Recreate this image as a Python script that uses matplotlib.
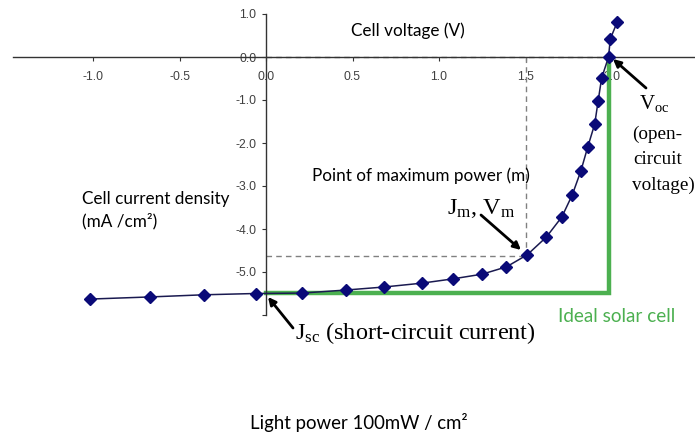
import matplotlib
matplotlib.use("Agg")
import matplotlib.pyplot as plt

# J-V curve of the cell
voltage = [-1.02, -0.67, -0.36, -0.06, 0.21, 0.46, 0.68, 0.90, 1.08, 1.25, 1.39, 1.51,
           1.62, 1.71, 1.77, 1.82, 1.86, 1.90, 1.92, 1.94, 1.98, 1.99, 2.03]
current = [-5.63, -5.58, -5.53, -5.50, -5.49, -5.42, -5.35, -5.26, -5.16, -5.05, -4.88, -4.60,
           -4.19, -3.72, -3.21, -2.65, -2.09, -1.56, -1.02, -0.49, 0.0, 0.42, 0.81]
v_oc = 1.98
j_sc = -5.49
v_m = 1.5
j_m = -4.63
x_ticks = [-1.0, -0.5, 0.0, 0.5, 1.0, 1.5, 2.0]
y_ticks = [1.0, 0.0, -1.0, -2.0, -3.0, -4.0, -5.0, -6.0]

plt.rcParams['mathtext.fontset'] = 'custom'
plt.rcParams['mathtext.rm'] = 'Liberation Serif'
plt.rcParams['mathtext.it'] = 'Liberation Serif:italic'

W, H = 695, 441
fig = plt.figure(figsize=(W / 100, H / 100), dpi=100)
ax = fig.add_axes([0, 0, 1, 1])
ax.set_xlim((0 - 266) / 173, (W - 266) / 173)
ax.set_ylim((57 - H) / 43, 57 / 43)


def fp(px, py):
    return (px / W, 1 - py / H)


# axes through the origin
for s in ['top', 'right']:
    ax.spines[s].set_visible(False)
ax.spines['left'].set_position(('data', 0))
ax.spines['bottom'].set_position(('data', 0))
ax.spines['left'].set_bounds(-6, 1)
ax.spines['bottom'].set_bounds((13 - 266) / 173, (W - 266) / 173)
for s in ['left', 'bottom']:
    ax.spines[s].set_color('#333333')
    ax.spines[s].set_linewidth(1)

ax.set_xticks(x_ticks)
ax.set_xticklabels(['%.1f' % v for v in x_ticks])
ax.set_yticks(y_ticks)
ax.set_yticklabels(['%.1f' % v if v > -6 else '' for v in y_ticks])
ax.tick_params(axis='x', direction='out', length=3, pad=7, labelsize=8.8,
               labelcolor='#404040', color='#333333')
ax.tick_params(axis='y', direction='out', length=3, pad=4, labelsize=8.8,
               labelcolor='#404040', color='#333333')
for lab in ax.get_xticklabels() + ax.get_yticklabels():
    lab.set_family('Liberation Sans')

# maximum power rectangle (dashed)
ax.plot([0, v_oc], [0, 0], ls='--', color='#808080', lw=1, dashes=(4, 3))
ax.plot([v_m, v_m], [0, j_m], ls='--', color='#808080', lw=1, dashes=(4, 3))
ax.plot([0, v_m], [j_m, j_m], ls='--', color='#808080', lw=1, dashes=(4, 3))

# ideal solar cell
green = '#4cb050'
ax.plot([0, v_oc, v_oc], [j_sc, j_sc, 0], color=green, lw=3.2, solid_joinstyle='miter', zorder=2)

# measured curve
ax.plot(voltage, current, color='#1a1a50', lw=1.1, marker='D', markersize=6.5,
        markerfacecolor='#0a0a78', markeredgecolor='#0a0a78', zorder=3)

sans = 'Lato'
serif = 'Liberation Serif'
ft = fig.transFigure
fig.text(*fp(351, 31), 'Cell voltage (V)', family=sans, fontsize=12.3, va='center', ha='left')
fig.text(*fp(312, 176), 'Point of maximum power (m)', family=sans, fontsize=12.3, va='center', ha='left')
fig.text(*fp(82, 199), 'Cell current density', family=sans, fontsize=12.3, va='center', ha='left')
fig.text(*fp(82, 221), '(mA /cm²)', family=sans, fontsize=12.3, va='center', ha='left')
fig.text(*fp(558, 316), 'Ideal solar cell', family=sans, fontsize=13.6, va='center', ha='left', color=green)
fig.text(*fp(250, 423), 'Light power 100mW / cm²', family=sans, fontsize=13.4, va='center', ha='left')

fig.text(*fp(639, 104), r'V$_{\rm oc}$', family=serif, fontsize=15, va='center', ha='left')
fig.text(*fp(632, 134), '(open-', family=serif, fontsize=13.8, va='center', ha='left')
fig.text(*fp(633, 160), 'circuit', family=serif, fontsize=13.8, va='center', ha='left')
fig.text(*fp(632, 185), 'voltage)', family=serif, fontsize=13.8, va='center', ha='left')

arrow = dict(arrowstyle='-|>', lw=2, color='black', mutation_scale=11, shrinkA=0, shrinkB=0)
fig.text(*fp(447, 208), r'J$_{\rm m}$, V$_{\rm m}$', family=serif, fontsize=17.5, va='center', ha='left')
ax.annotate('', xy=((521 - 266) / 173, (57 - 250) / 43), xytext=fp(481, 215),
            textcoords=ft, arrowprops=arrow)
ax.annotate('', xy=((613 - 266) / 173, (57 - 59) / 43), xytext=fp(646, 88),
            textcoords=ft, arrowprops=arrow)
fig.text(*fp(295, 333), r'J$_{\rm sc}$ (short-circuit current)', family=serif, fontsize=17.5,
         va='center', ha='left')
ax.annotate('', xy=((268 - 266) / 173, (57 - 297) / 43), xytext=fp(293, 328),
            textcoords=ft, arrowprops=arrow)

fig.savefig('out.png', dpi=100)
